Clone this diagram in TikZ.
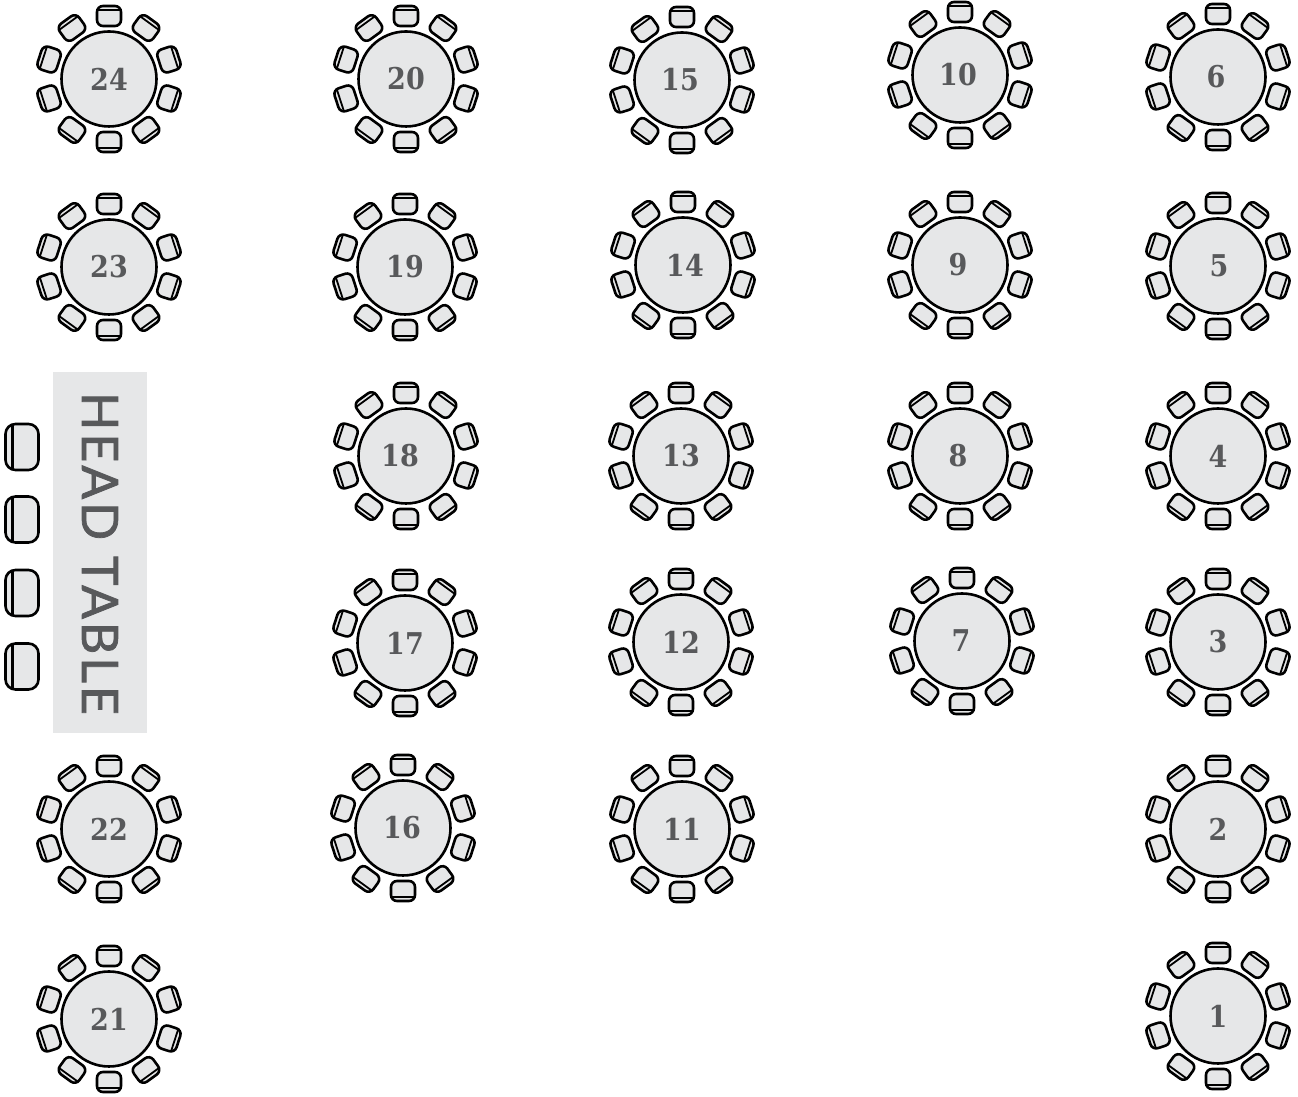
\documentclass[tikz,border=0pt]{standalone}
\usepackage{fontspec}
\newfontfamily\tablefont{DejaVu Serif Condensed}
\newfontfamily\headfont[LetterSpace=6,FakeBold=1.5]{Lato}
\usetikzlibrary{calc}
\definecolor{tafel}{RGB}{230,231,232}
\definecolor{tekst}{RGB}{88,89,91}
\tikzset{
  tbl/.style={draw, circle, fill=tafel, line width=2.6pt, minimum size=95pt, inner sep=0pt},
  tbllabel/.style={text=tekst, inner sep=0pt, font=\fontsize{30}{30}\tablefont\bfseries},
  seat/.style={draw, fill=tafel, line width=2.6pt, rounded corners=6pt},
  chair/.pic={
    \draw[seat] (-12,-10) rectangle (12,10);
    \draw[line width=1.8pt] (-11.5,6) -- (11.5,6);
  }
}
% one round table with its ten chairs
\newcommand{\roundtable}[4]{
  \foreach \a in {18,54,...,342}
    \pic[rotate=\a-90] at ($(#2,1097-#3)+(\a:63)$) {chair};
  \node[tbl] (t#1) at (#2,1097-#3) {};
  \node[tbllabel] (n#1) at (#4,1097-#3) {#1};
}
\begin{document}
\begin{tikzpicture}[x=1pt, y=1pt]
  \useasboundingbox (0,0) rectangle (1298,1097);

  % rows of tables, left to right
  \roundtable{24}{109}{79}{109}
  \roundtable{20}{406}{79}{406}
  \roundtable{15}{682}{80}{680}
  \roundtable{10}{960}{75}{958}
  \roundtable{6}{1218}{77}{1216}

  \roundtable{23}{109}{267}{109}
  \roundtable{19}{405}{267}{405}
  \roundtable{14}{683}{265}{685}
  \roundtable{9}{960}{265}{958}
  \roundtable{5}{1218}{266}{1219}

  \roundtable{18}{406}{456}{400}
  \roundtable{13}{681}{456}{681}
  \roundtable{8}{960}{456}{958}
  \roundtable{4}{1218}{456}{1218}

  \roundtable{17}{405}{643}{405}
  \roundtable{12}{681}{642}{681}
  \roundtable{7}{962}{641}{961}
  \roundtable{3}{1218}{642}{1218}

  \roundtable{22}{109}{829}{109}
  \roundtable{16}{403}{828}{402}
  \roundtable{11}{682}{829}{682}
  \roundtable{2}{1218}{829}{1218}

  \roundtable{21}{109}{1019}{109}
  \roundtable{1}{1218}{1016}{1218}

  % head table
  \node[fill=tafel, minimum width=94pt, minimum height=361pt, inner sep=0pt] (head) at (100,544.5) {};
  \node[rotate=-90, text=tekst, font=\fontsize{50}{50}\headfont] (headlabel) at (100,543.5) {HEAD TABLE};
  \foreach \y in {447,519.5,593,666.5}
    \draw[seat, rounded corners=10pt] (5.5,1097-\y-23) rectangle (38.5,1097-\y+23) (12.5,1097-\y-22) -- (12.5,1097-\y+22);
\end{tikzpicture}
\end{document}
